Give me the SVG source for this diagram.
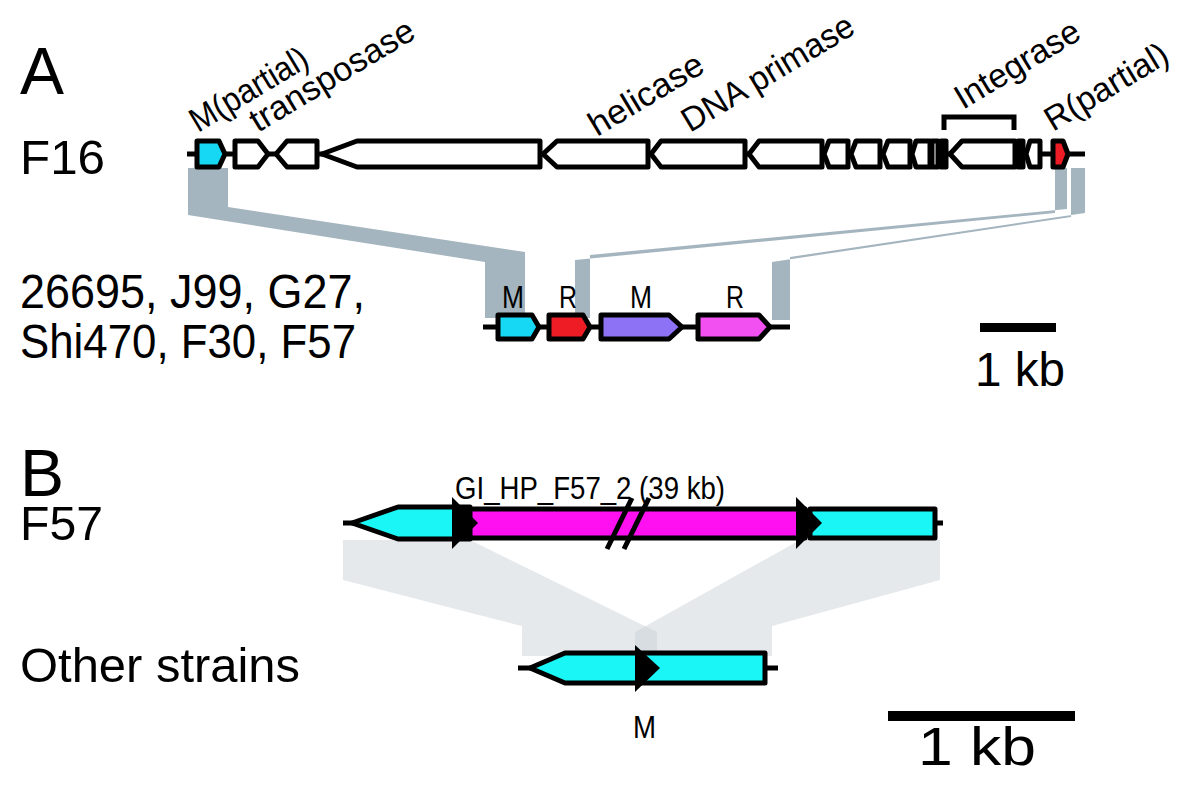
<svg xmlns="http://www.w3.org/2000/svg" width="1200" height="802" viewBox="0 0 1200 802">
<style>
text{font-family:"Liberation Sans",Arial,sans-serif;fill:#000}
.big{font-size:66px}
.lab{font-size:48px}
.rot{font-size:34px}
.sm{font-size:32px}
.g{stroke:#000;stroke-width:5;stroke-linejoin:round}
.w{fill:#fff}
.ln{stroke:#000;stroke-width:5;fill:none}
.band{fill:#a4b5bf}
.shade{fill:#c6ced3;fill-opacity:0.45}
</style>
<g id="connectors">
<polygon class="band" points="188,168 228,168 228,207 525,252 525,318 485,318 485,262 188,215"/>
<polygon class="band" points="1055,168 1067,168 1067,209 590,255 590,318 575,318 575,260 1055,213"/>
<polygon class="band" points="1071,168 1085,168 1085,213 790,257 790,320 772,320 772,262 1071,217"/>
<polygon class="shade" points="343,540 470,540 657,632 657,656 522,656 522,626 343,580"/>
<polygon class="shade" points="800,540 940,540 940,580 772,626 772,656 635,656 635,632"/>
</g>
<g id="labelA"><text class="big" x="20" y="94">A</text></g>
<g id="labelB"><text class="big" x="20" y="496">B</text></g>
<g id="F16">
<text class="lab" x="20" y="174" textLength="85" lengthAdjust="spacingAndGlyphs">F16</text>
<line class="ln" x1="187" y1="154" x2="1085" y2="154"/>
<path class="g" fill="#16d8f5" d="M197,141H219L225,154L219,167H197Z"/>
<path class="g w" d="M235,141H258L268,154L258,167H235Z"/>
<path class="g w" d="M276,154L287,141H317V167H287Z"/>
<path class="g w" d="M322,154L357,141H540V167H357Z"/>
<path class="g w" d="M543,154L557,141H648V167H557Z"/>
<path class="g w" d="M651,154L661,141H745V167H661Z"/>
<path class="g w" d="M749,154L759,141H822V167H759Z"/>
<path class="g w" d="M824,154L829,141H848V167H829Z"/>
<path class="g w" d="M851,154L856,141H880V167H856Z"/>
<path class="g w" d="M883,154L888,141H910V167H888Z"/>
<path class="g w" d="M912,154L916,141H930V167H916Z"/>
<path class="g w" d="M932,141H938V167H932Z"/>
<path class="g w" d="M941,141H946V167H941Z"/>
<path class="g w" d="M950,154L962,141H1015V167H962Z"/>
<path class="g w" d="M1018,141H1023V167H1018Z"/>
<path class="g w" d="M1026,154L1030,141H1040V167H1030Z"/>
<path class="g" fill="#ee1c24" d="M1053,141H1063L1068,154L1063,167H1053Z"/>
<path class="ln" d="M944,130V117H1014V130"/>
<text class="rot" transform="translate(198,133) rotate(-31)" textLength="132" lengthAdjust="spacingAndGlyphs">M(partial)</text>
<text class="rot" transform="translate(258,133) rotate(-31)" textLength="186" lengthAdjust="spacingAndGlyphs">transposase</text>
<text class="rot" transform="translate(597,137) rotate(-31)" textLength="128" lengthAdjust="spacingAndGlyphs">helicase</text>
<text class="rot" transform="translate(690,133) rotate(-31)" textLength="195" lengthAdjust="spacingAndGlyphs">DNA primase</text>
<text class="rot" transform="translate(963,110) rotate(-31)" textLength="140" lengthAdjust="spacingAndGlyphs">Integrase</text>
<text class="rot" transform="translate(1053,132) rotate(-31)" textLength="138" lengthAdjust="spacingAndGlyphs">R(partial)</text>
</g>
<g id="strainsA">
<text class="lab" x="20" y="308" textLength="345" lengthAdjust="spacingAndGlyphs">26695, J99, G27,</text>
<text class="lab" x="20" y="358" textLength="336" lengthAdjust="spacingAndGlyphs">Shi470, F30, F57</text>
<line class="ln" x1="483" y1="327" x2="790" y2="327"/>
<path class="g" fill="#16d8f5" d="M498,315H532L539,327L532,339H498Z"/>
<path class="g" fill="#ee1c24" d="M549,315H583L590,327L583,339H549Z"/>
<path class="g" fill="#8e72f5" d="M601,315H669L682,327L669,339H601Z"/>
<path class="g" fill="#f250f0" d="M698,315H759L770,327L759,339H698Z"/>
<text class="sm" x="502" y="308" textLength="22" lengthAdjust="spacingAndGlyphs">M</text>
<text class="sm" x="559" y="308" textLength="18" lengthAdjust="spacingAndGlyphs">R</text>
<text class="sm" x="630" y="308" textLength="22" lengthAdjust="spacingAndGlyphs">M</text>
<text class="sm" x="726" y="308" textLength="18" lengthAdjust="spacingAndGlyphs">R</text>
</g>
<g id="scaleA">
<rect x="980" y="323" width="76" height="9" fill="#000"/>
<text class="lab" x="975" y="386" textLength="90" lengthAdjust="spacingAndGlyphs">1 kb</text>
</g>
<g id="F57">
<text class="lab" x="20" y="540" textLength="83" lengthAdjust="spacingAndGlyphs">F57</text>
<text class="sm" x="455" y="499" textLength="270" lengthAdjust="spacingAndGlyphs">GI_HP_F57_2 (39 kb)</text>
<line class="ln" x1="343" y1="523" x2="943" y2="523"/>
<path class="g" fill="#1af5f5" d="M352,523L398,507H470V539H398Z"/>
<rect class="g" x="470" y="509" width="335" height="29" fill="#ff10f0"/>
<rect class="g" x="810" y="509" width="125" height="29" fill="#1af5f5"/>
<path fill="#000" d="M452,497L478,523L452,549Z"/>
<rect x="452" y="509" width="20" height="29" fill="#000"/>
<path fill="#000" d="M796,497L822,523L796,549Z"/>
<path class="ln" d="M607,549L632,498M624,549L649,498"/>
</g>
<g id="other">
<text class="lab" x="20" y="682" textLength="280" lengthAdjust="spacingAndGlyphs">Other strains</text>
<line class="ln" x1="518" y1="668" x2="778" y2="668"/>
<path class="g" fill="#1af5f5" d="M530,668L565,653H765V683H565Z"/>
<path fill="#000" d="M635,645L660,668L635,692Z"/>
<text class="sm" x="633" y="738" textLength="23" lengthAdjust="spacingAndGlyphs">M</text>
</g>
<g id="scaleB">
<rect x="888" y="711" width="187" height="10" fill="#000"/>
<text x="918" y="765" font-size="54" textLength="118" lengthAdjust="spacingAndGlyphs">1 kb</text>
</g>
</svg>
